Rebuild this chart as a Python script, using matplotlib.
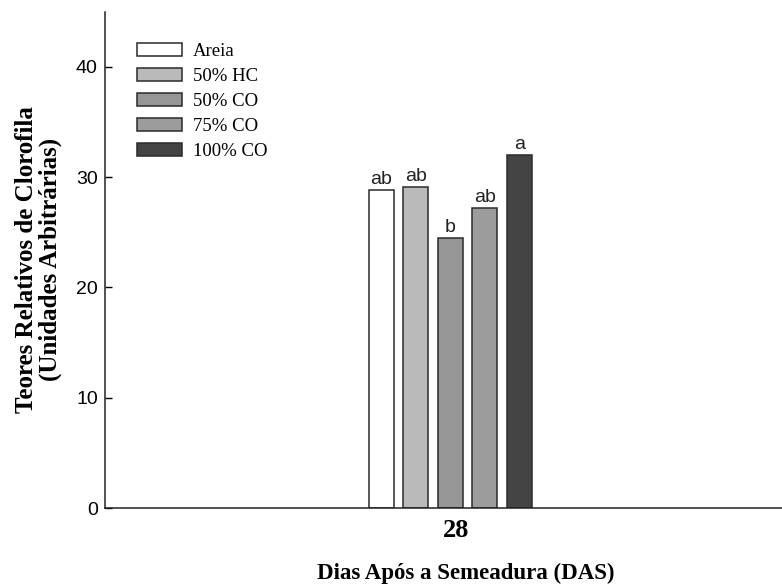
import numpy as np
import matplotlib
matplotlib.use("Agg")
import matplotlib.pyplot as plt
from matplotlib.transforms import ScaledTranslation

# Data
treatments = ["Areia", "50% HC", "50% CO", "75% CO", "100% CO"]
values = [28.8, 29.1, 24.5, 27.2, 32.0]
letters = ["ab", "ab", "b", "ab", "a"]
colors = ["#ffffff", "#bababa", "#969696", "#9c9c9c", "#444444"]
day_label = "28"

fig = plt.figure(figsize=(7.82, 5.86), dpi=100)
ax = fig.add_axes([0.134, 0.133, 0.866, 0.847])

center = 1.0
step = 0.2
width = 0.145
offsets = (np.arange(len(treatments)) - 2) * step

for off, v, c, lab, let in zip(offsets, values, colors, treatments, letters):
    ax.bar(center + off, v, width=width, color=c, edgecolor="#2a2a2a",
           linewidth=1.1, label=lab, zorder=2)
    ax.text(center + off, v + 0.2, let, ha="center", va="bottom",
            fontsize=14, family="Liberation Sans", color="#222222")

ax.set_xlim(center - 2.0, center + 1.92)
ax.set_ylim(0, 45)
ax.set_yticks([0, 10, 20, 30, 40])
ax.set_xticks([center])
ax.set_xticklabels([day_label], fontsize=19, fontweight="bold",
                   family="Liberation Serif")
ax.tick_params(axis="x", length=0, pad=8)
ax.tick_params(axis="y", direction="in", length=5, width=1, labelsize=14,
               pad=5)
for t in ax.get_yticklabels():
    t.set_family("Liberation Sans")
# the "28" sits a little right of the bar group in the original
for t in ax.get_xticklabels():
    t.set_transform(t.get_transform() + ScaledTranslation(0.06, 0, fig.dpi_scale_trans))

ax.spines["top"].set_visible(False)
ax.spines["right"].set_visible(False)
for s in ["left", "bottom"]:
    ax.spines[s].set_linewidth(1.1)
    ax.spines[s].set_color("#222222")

ax.set_ylabel("Teores Relativos de Clorofila\n(Unidades Arbitrárias)",
              fontsize=18, fontweight="bold", family="Liberation Serif",
              labelpad=10, linespacing=1.05)
ax.set_xlabel("Dias Após a Semeadura (DAS)", fontsize=16.5, fontweight="bold",
              family="Liberation Serif")
ax.xaxis.set_label_coords(0.533, -0.11)

leg = ax.legend(loc="upper left", bbox_to_anchor=(0.036, 0.953), frameon=False,
                borderaxespad=0,
                prop={"family": "Liberation Serif", "size": 13.5},
                handlelength=2.4, handleheight=0.7, labelspacing=0.42,
                handletextpad=0.6)

fig.savefig("out.png", dpi=100)
